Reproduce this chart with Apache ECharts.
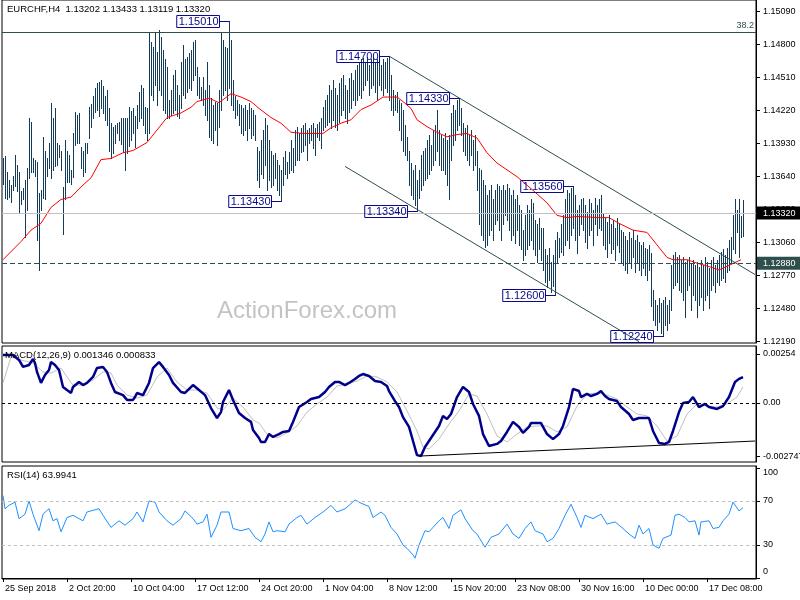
<!DOCTYPE html>
<html><head><meta charset="utf-8">
<script src="https://cdn.jsdelivr.net/npm/echarts/dist/echarts.min.js"></script>
<style>html,body{margin:0;padding:0;background:#fff}#c{width:800px;height:600px}</style>
</head><body><div id="c"></div>
<script>
// ---------- DATA ----------
const titleText = 'EURCHF,H4  1.13202 1.13433 1.13119 1.13320';
const timeLabels = ['25 Sep 2018','2 Oct 20:00','10 Oct 04:00','17 Oct 12:00','24 Oct 20:00','1 Nov 04:00','8 Nov 12:00','15 Nov 20:00','23 Nov 08:00','30 Nov 16:00','10 Dec 00:00','17 Dec 08:00'];
const barsPerLabel = 32;
const totalSlots = 377;

const highs = [
1.1380,1.1382,1.1368,1.1361,1.1357,1.1365,1.1383,1.1374,1.1368,1.1351,
1.1354,1.1361,1.1372,1.1416,1.1412,1.1380,1.1379,1.1377,1.1350,1.1352,
1.1399,1.1387,1.1380,1.1394,1.1429,1.1416,1.1424,1.1394,1.1392,1.1387,
1.1355,1.1396,1.1387,1.1383,1.1370,1.1402,1.1421,1.1418,1.1420,1.1390,
1.1387,1.1394,1.1394,1.1425,1.1428,1.1435,1.1442,1.1446,1.1447,1.1449,
1.1444,1.1435,1.1440,1.1424,1.1411,1.1408,1.1409,1.1411,1.1412,1.1416,
1.1416,1.1416,1.1416,1.1425,1.1422,1.1424,1.1417,1.1427,1.1438,1.1445,
1.1442,1.1425,1.1424,1.1490,1.1482,1.1478,1.1490,1.1474,1.1493,1.1487,
1.1475,1.1467,1.1460,1.1431,1.1440,1.1453,1.1458,1.1445,1.1436,1.1465,
1.1480,1.1467,1.1469,1.1473,1.1475,1.1482,1.1484,1.1460,1.1452,1.1443,
1.1452,1.1440,1.1465,1.1445,1.1433,1.1427,1.1430,1.1429,1.1440,1.1491,
1.1484,1.1478,1.1477,1.1501,1.1484,1.1449,1.1435,1.1431,1.1428,1.1427,
1.1424,1.1427,1.1423,1.1429,1.1424,1.1423,1.1418,1.1390,1.1387,1.1396,
1.1405,1.1416,1.1409,1.1396,1.1387,1.1383,1.1385,1.1379,1.1374,1.1370,
1.1381,1.1387,1.1377,1.1386,1.1396,1.1389,1.1405,1.1408,1.1402,1.1407,
1.1409,1.1411,1.1405,1.1407,1.1409,1.1411,1.1407,1.1410,1.1412,1.1416,
1.1425,1.1431,1.1436,1.1445,1.1440,1.1449,1.1442,1.1436,1.1446,1.1451,
1.1453,1.1445,1.1440,1.1451,1.1455,1.1449,1.1458,1.1462,1.1465,1.1467,
1.1468,1.1465,1.1469,1.1462,1.1467,1.1469,1.1464,1.1467,1.1468,1.1462,
1.1467,1.1465,1.1468,1.1470,1.1453,1.1440,1.1436,1.1438,1.1431,1.1429,
1.1423,1.1409,1.1399,1.1387,1.1376,1.1370,1.1374,1.1361,1.1370,1.1383,
1.1387,1.1389,1.1396,1.1401,1.1392,1.1405,1.1409,1.1423,1.1405,1.1401,
1.1398,1.1402,1.1396,1.1401,1.1420,1.1427,1.1423,1.1431,1.1433,1.1424,
1.1411,1.1407,1.1409,1.1401,1.1405,1.1396,1.1401,1.1387,1.1372,1.1370,
1.1361,1.1357,1.1348,1.1352,1.1357,1.1344,1.1352,1.1358,1.1356,1.1352,
1.1357,1.1352,1.1358,1.1354,1.1348,1.1352,1.1344,1.1348,1.1339,1.1335,
1.1317,1.1330,1.1339,1.1335,1.1344,1.1341,1.1326,1.1322,1.1328,1.1319,
1.1319,1.1300,1.1295,1.1301,1.1289,1.1295,1.1308,1.1315,1.1310,1.1322,
1.1330,1.1344,1.1352,1.1350,1.1354,1.1356,1.1348,1.1335,1.1339,1.1344,
1.1345,1.1339,1.1333,1.1344,1.1341,1.1335,1.1345,1.1339,1.1344,1.1348,
1.1332,1.1328,1.1324,1.1330,1.1322,1.1326,1.1319,1.1328,1.1322,1.1317,
1.1315,1.1312,1.1308,1.1315,1.1310,1.1317,1.1308,1.1313,1.1307,1.1304,
1.1307,1.1301,1.1300,1.1304,1.1297,1.1264,1.1256,1.1251,1.1257,1.1253,
1.1256,1.1258,1.1251,1.1256,1.1286,1.1295,1.1298,1.1293,1.1295,1.1291,
1.1293,1.1289,1.1291,1.1293,1.1288,1.1291,1.1286,1.1289,1.1285,1.1291,
1.1286,1.1293,1.1289,1.1284,1.1291,1.1293,1.1286,1.1291,1.1295,1.1298,
1.1300,1.1295,1.1301,1.1308,1.1311,1.1330,1.1344,1.1335,1.1344,1.1329,1.13433];

const lows = [
1.1358,1.1345,1.1344,1.1346,1.1342,1.1352,1.1356,1.1351,1.1332,1.1340,
1.1344,1.1311,1.1335,1.1363,1.1368,1.1368,1.1365,1.1308,1.1282,1.1335,
1.1345,1.1344,1.1365,1.1372,1.1363,1.1370,1.1373,1.1374,1.1381,1.1370,
1.1314,1.1344,1.1359,1.1359,1.1358,1.1364,1.1392,1.1394,1.1394,1.1372,
1.1365,1.1368,1.1385,1.1398,1.1408,1.1416,1.1421,1.1423,1.1417,1.1424,
1.1420,1.1414,1.1409,1.1387,1.1380,1.1385,1.1394,1.1402,1.1396,1.1393,
1.1386,1.1370,1.1385,1.1391,1.1396,1.1402,1.1390,1.1407,1.1413,1.1416,
1.1409,1.1402,1.1396,1.1402,1.1436,1.1431,1.1445,1.1427,1.1440,1.1436,
1.1423,1.1420,1.1416,1.1416,1.1418,1.1420,1.1423,1.1417,1.1416,1.1424,
1.1436,1.1433,1.1438,1.1442,1.1440,1.1449,1.1453,1.1436,1.1433,1.1431,
1.1427,1.1418,1.1414,1.1399,1.1396,1.1394,1.1405,1.1392,1.1408,1.1423,
1.1436,1.1440,1.1431,1.1442,1.1427,1.1423,1.1416,1.1418,1.1409,1.1402,
1.1401,1.1405,1.1396,1.1407,1.1398,1.1401,1.1396,1.1361,1.1355,1.1366,
1.1363,1.1374,1.1352,1.1361,1.1355,1.1357,1.1363,1.1352,1.1348,1.1343,
1.1357,1.1366,1.1363,1.1367,1.1370,1.1368,1.1374,1.1379,1.1379,1.1386,
1.1387,1.1392,1.1379,1.1394,1.1396,1.1389,1.1383,1.1399,1.1396,1.1389,
1.1405,1.1408,1.1409,1.1412,1.1407,1.1414,1.1408,1.1405,1.1412,1.1418,
1.1423,1.1416,1.1411,1.1421,1.1424,1.1431,1.1427,1.1431,1.1436,1.1433,
1.1440,1.1445,1.1449,1.1436,1.1442,1.1445,1.1438,1.1431,1.1445,1.1440,
1.1436,1.1442,1.1438,1.1431,1.1423,1.1418,1.1423,1.1421,1.1405,1.1396,
1.1387,1.1383,1.1379,1.1357,1.1348,1.1344,1.1339,1.1334,1.1345,1.1352,
1.1357,1.1361,1.1363,1.1366,1.1370,1.1374,1.1379,1.1387,1.1374,1.1370,
1.1370,1.1366,1.1357,1.1344,1.1379,1.1392,1.1396,1.1405,1.1409,1.1401,
1.1387,1.1383,1.1379,1.1374,1.1383,1.1370,1.1374,1.1352,1.1322,1.1313,
1.1308,1.1302,1.1304,1.1313,1.1317,1.1308,1.1322,1.1326,1.1317,1.1308,
1.1322,1.1330,1.1326,1.1317,1.1308,1.1313,1.1306,1.1317,1.1304,1.1300,
1.1291,1.1295,1.1300,1.1304,1.1308,1.1300,1.1295,1.1289,1.1300,1.1291,
1.1282,1.1271,1.1267,1.1273,1.1263,1.1268,1.1260,1.1289,1.1293,1.1298,
1.1295,1.1304,1.1308,1.1301,1.1313,1.1319,1.1308,1.1297,1.1313,1.1322,
1.1317,1.1307,1.1301,1.1313,1.1317,1.1304,1.1322,1.1313,1.1319,1.1317,
1.1304,1.1300,1.1293,1.1306,1.1297,1.1300,1.1291,1.1304,1.1298,1.1289,
1.1286,1.1282,1.1279,1.1289,1.1284,1.1293,1.1280,1.1289,1.1282,1.1278,
1.1284,1.1278,1.1273,1.1282,1.1250,1.1238,1.1234,1.1229,1.1236,1.1227,
1.1224,1.1234,1.1229,1.1235,1.1247,1.1266,1.1269,1.1271,1.1264,1.1263,
1.1256,1.1241,1.1264,1.1269,1.1247,1.1260,1.1256,1.1241,1.1251,1.1258,
1.1247,1.1256,1.1260,1.1249,1.1264,1.1269,1.1263,1.1271,1.1269,1.1273,
1.1275,1.1271,1.1280,1.1282,1.1289,1.1300,1.1297,1.1315,1.1293,1.1311,1.13119];

const maBars = [0,9,14,19,24,29,34,39,44,49,54,60,65,72,77,82,89,94,97,103,108,114,119,124,128,134,139,144,150,160,164,169,174,179,184,190,197,200,204,207,212,217,222,227,232,237,242,247,252,257,259,265,272,277,282,287,298,303,308,315,322,327,332,335,342,347,353,358,363,369];
const maVals = [1.1291,1.1307,1.1317,1.1323,1.1337,1.1344,1.1346,1.1355,1.1363,1.1379,1.1380,1.1385,1.1387,1.1394,1.1405,1.1416,1.1420,1.1425,1.1430,1.1433,1.1429,1.1437,1.1434,1.1430,1.1424,1.1416,1.1411,1.1403,1.1402,1.1402,1.1407,1.1411,1.1414,1.1423,1.1427,1.1434,1.1434,1.1430,1.1424,1.1414,1.1408,1.1403,1.1399,1.1401,1.1402,1.1398,1.1385,1.1376,1.1370,1.1364,1.1361,1.1352,1.1341,1.1330,1.1328,1.1329,1.1328,1.1328,1.1323,1.1317,1.1315,1.1304,1.1293,1.1291,1.1291,1.1288,1.1285,1.1282,1.1286,1.1291];

const macdBars = [0,5,8,10,13,15,16,17,19,21,23,24,26,28,30,32,34,35,38,40,42,45,47,50,52,54,56,60,62,65,66,67,70,71,73,75,78,80,83,85,89,91,95,98,101,104,107,109,110,113,115,118,121,124,125,128,129,131,133,135,138,140,143,145,148,152,154,158,161,163,166,168,171,173,176,178,180,183,186,189,192,193,196,198,200,203,205,207,209,211,213,216,218,220,222,224,227,230,233,235,238,240,243,244,247,249,252,255,258,260,263,264,269,272,275,278,280,283,285,288,289,292,294,297,299,301,303,307,309,313,315,318,323,325,328,331,333,335,338,340,343,345,348,351,353,357,360,363,366,368,370];
const macdVals = [0.00249,0.00249,0.00223,0.00187,0.00197,0.00228,0.00207,0.00161,0.00104,0.00145,0.00171,0.00212,0.00197,0.00171,0.00083,0.00067,0.00052,0.00083,0.00109,0.00093,0.00104,0.00135,0.00181,0.00187,0.00161,0.00104,0.00057,0.00041,0.00016,0.00016,0.00031,0.00052,0.00041,0.00041,0.00104,0.00181,0.00212,0.00187,0.00145,0.00104,0.00057,0.00052,0.00093,0.00067,0.00041,-0.00026,-0.00078,-0.00047,0.00005,0.00067,0.00016,-0.00052,-0.00078,-0.00098,-0.00140,-0.00181,-0.00202,-0.00202,-0.00161,-0.00176,-0.00161,-0.00150,-0.00145,-0.00098,-0.00021,0.00005,0.00021,0.00031,0.00057,0.00083,0.00109,0.00109,0.00093,0.00104,0.00124,0.00140,0.00150,0.00140,0.00114,0.00109,0.00088,0.00062,0.00010,-0.00021,-0.00073,-0.00124,-0.00197,-0.00270,-0.002747,-0.00228,-0.00197,-0.00150,-0.00119,-0.00067,-0.00083,-0.00057,0.00031,0.00083,0.00057,-0.00005,-0.00067,-0.00161,-0.00223,-0.00233,-0.00212,-0.00197,-0.00150,-0.00098,-0.00124,-0.00155,-0.00124,-0.00104,-0.00104,-0.00161,-0.00187,-0.00161,-0.00119,-0.00021,0.00073,0.00062,0.00031,0.00047,0.00036,0.00047,0.00062,0.00036,0.00021,0.00010,-0.00021,-0.00057,-0.00088,-0.00078,-0.00078,-0.00145,-0.00207,-0.00212,-0.00202,-0.00145,-0.00047,0.00000,0.00005,0.00031,-0.00021,-0.00005,-0.00021,-0.00031,-0.00016,0.00031,0.00109,0.00125,0.001346];

const sigBars = [0,4,9,15,20,24,29,32,35,40,45,50,54,57,62,67,72,77,82,87,92,97,102,107,110,115,120,125,128,132,137,142,147,152,157,162,167,172,177,182,187,192,197,202,207,210,213,218,223,228,233,237,242,247,252,257,262,267,272,277,282,287,292,297,302,307,312,317,322,327,332,337,342,347,352,357,362,367,370];
const sigVals = [0.00104,0.00238,0.00223,0.00207,0.00161,0.00155,0.00181,0.00135,0.00093,0.00093,0.00119,0.00161,0.00155,0.00093,0.00041,0.00026,0.00041,0.00135,0.00181,0.00109,0.00067,0.00067,0.00052,-0.00026,-0.00036,0.00026,-0.00021,-0.00088,-0.00104,-0.00161,-0.00181,-0.00155,-0.00119,-0.00047,-0.00005,0.00031,0.00088,0.00098,0.00114,0.00140,0.00135,0.00109,0.00057,-0.00041,-0.00145,-0.00228,-0.00238,-0.00187,-0.00109,-0.00041,0.00047,0.00036,-0.00057,-0.00171,-0.00202,-0.00161,-0.00124,-0.00119,-0.00119,-0.00150,-0.00124,-0.00016,0.00047,0.00052,0.00041,0.00021,-0.00021,-0.00057,-0.00067,-0.00119,-0.00197,-0.00171,-0.00057,-0.00005,-0.00016,-0.00021,-0.00005,0.00031,0.000833];

const rsiBars = [0,1,3,6,8,11,13,15,18,20,23,25,27,29,32,35,37,40,42,46,48,50,54,58,61,65,67,70,73,76,78,82,85,89,91,95,97,100,102,104,107,109,113,115,119,123,126,129,131,133,135,137,141,143,147,149,152,154,156,160,164,167,171,173,176,179,183,185,189,191,194,197,200,202,205,206,208,211,213,215,218,220,223,225,229,231,235,237,241,244,248,252,255,258,261,264,266,270,272,275,278,281,284,287,289,291,295,299,302,306,310,313,316,318,320,323,325,328,330,334,336,338,341,343,346,348,349,353,355,358,360,363,365,368,370];
const rsiVals = [75,63,66,69,54,58,70,58,43,58,63,52,54,42,55,57,55,52,60,62,63,57,46,52,48,54,60,51,70,69,60,52,48,54,61,54,49,51,58,37,48,60,60,45,43,45,37,33,40,51,42,43,42,49,55,57,49,52,55,60,66,60,63,66,71,68,65,55,60,57,46,40,30,27,21,18,30,43,42,46,52,55,45,57,62,54,43,40,28,37,40,49,40,36,45,51,43,40,33,36,45,57,67,55,46,57,54,58,49,51,45,40,36,48,40,45,30,27,36,39,57,58,55,51,52,39,51,52,45,46,52,58,69,61,63.9941];

const priceTicks = [1.1219,1.1248,1.1277,1.1306,1.1335,1.1364,1.1393,1.1422,1.1451,1.1480,1.1509];
const macdTicks = [-0.002747,0,0.00254];
const rsiTicks = [0,30,70,100];
const rsiLevels = [70,30];

const fibLevel = 1.14911, fibName = '38.2';
const lastPrice = 1.1332;
const supportLevel = 1.1288;

const noteBars = [113,139,193,207,228,276,285,330];
const notePrices = [1.1501,1.1343,1.1470,1.1334,1.1433,1.1260,1.1356,1.1224];

const upperChannel = [[193,1.1470],[376,1.1278]];
const lowerChannel = [[171,1.1373],[318,1.1219]];
const macdTrend = [[208,-0.00275],[376,-0.00197]];

// ---------- CHART ----------
const FONT = '"Liberation Sans", Arial, sans-serif';
const BAR_COLOR = '#133c5a';
const NOTE_COLOR = '#0a0a8a';
const DARK = '#2f4f4f';
const cats = Array.from({length: totalSlots}, (_, i) => String(i));
const showLabel = (i) => i % barsPerLabel === 0 && (i / barsPerLabel) < timeLabels.length;
const pairs = (b, v) => b.map((x, k) => [x, v[k]]);

function renderBar(params, api) {
  const top = api.coord([api.value(0), api.value(1)]);
  const bot = api.coord([api.value(0), api.value(2)]);
  const x = Math.floor(top[0] + 0.01) + 0.5;
  return { type: 'line', silent: true,
    shape: { x1: x, y1: Math.round(top[1]), x2: x, y2: Math.round(bot[1]) + 1 },
    style: { stroke: BAR_COLOR, lineWidth: 1 } };
}
function renderNote(params, api) {
  const p = api.coord([api.value(0), api.value(1)]);
  const x = Math.floor(p[0] + 0.01) + 0.5;
  const y = Math.round(p[1]) + 0.5;
  const txt = notePrices[params.dataIndex].toFixed(5);
  return { type: 'group', silent: true, children: [
    { type: 'line', shape: { x1: x - 10, y1: y, x2: x, y2: y }, style: { stroke: NOTE_COLOR, lineWidth: 1 } },
    { type: 'text', x: x - 10, y: y, style: { text: txt, font: '11px ' + FONT, fill: NOTE_COLOR,
      align: 'right', verticalAlign: 'middle', lineHeight: 11,
      borderColor: NOTE_COLOR, borderWidth: 1, padding: [1, 1, 0, 2] } }
  ]};
}

const gridBase = { left: 2, width: 754, show: true, borderColor: '#000', borderWidth: 1, containLabel: false, outerBoundsMode: 'none' };
const hiddenX = (g) => ({ type: 'category', gridIndex: g, data: cats, show: false, boundaryGap: true });
const yBase = (g, min, max, ticks, fmt) => ({
  type: 'value', gridIndex: g, position: 'right', min: min, max: max,
  splitLine: { show: false },
  axisLine: { show: true, lineStyle: { color: '#000' } },
  axisTick: { show: true, length: 4, customValues: ticks, lineStyle: { color: '#000' } },
  axisLabel: { show: true, customValues: ticks, formatter: fmt, margin: 7, fontSize: 9, color: '#000', fontFamily: FONT }
});

const option = {
  animation: false,
  backgroundColor: '#fff',
  textStyle: { fontFamily: FONT },
  title: [
    { text: titleText, left: 7, top: 4, padding: 0, textStyle: { fontSize: 9.5, fontWeight: 'normal', color: '#000', fontFamily: FONT } },
    { text: 'MACD(12,26,9) ' + macdVals[macdVals.length-1].toFixed(6) + ' ' + sigVals[sigVals.length-1].toFixed(6), left: 5, top: 350, padding: 0, textStyle: { fontSize: 9.5, fontWeight: 'normal', color: '#000', fontFamily: FONT } },
    { text: 'RSI(14) ' + rsiVals[rsiVals.length-1].toFixed(4), left: 7, top: 470, padding: 0, textStyle: { fontSize: 9.5, fontWeight: 'normal', color: '#000', fontFamily: FONT } }
  ],
  graphic: [
    { type: 'text', left: 217, top: 299, z: 0, silent: true, style: { text: 'ActionForex.com', fill: '#c4c4c4', font: '24px ' + FONT } }
  ],
  grid: [
    Object.assign({ top: 0, height: 343 }, gridBase),
    Object.assign({ top: 346, height: 116 }, gridBase),
    Object.assign({ top: 466, height: 113 }, gridBase)
  ],
  xAxis: [
    hiddenX(0), hiddenX(1),
    { type: 'category', gridIndex: 2, data: cats, boundaryGap: true,
      axisLine: { show: true, lineStyle: { color: '#000' } },
      axisTick: { show: true, alignWithLabel: true, interval: (i) => showLabel(i), length: 4, lineStyle: { color: '#000' } },
      axisLabel: { show: true, interval: (i) => showLabel(i), formatter: (v, i) => timeLabels[Math.round(Number(v) / barsPerLabel)] || '',
        align: 'left', margin: 5, fontSize: 9, color: '#000', fontFamily: FONT, padding: [0, 0, 0, 2] },
      splitLine: { show: false } }
  ],
  yAxis: [
    yBase(0, 1.12178, 1.15193, priceTicks, (v) => v.toFixed(5)),
    yBase(1, -0.003057, 0.0029534, macdTicks, (v) => v === 0 ? '0.00' : String(v)),
    yBase(2, -0.909, 101.82, rsiTicks, (v) => v === 100 ? '{t|100}' : (v === 0 ? '{b|0}' : String(v)))
  ],
  series: [
    { type: 'line', xAxisIndex: 0, yAxisIndex: 0, data: [], z: 1, silent: true,
      markLine: { silent: true, precision: 6, symbol: ['none', 'none'], animation: false, data: [
        { yAxis: fibLevel, lineStyle: { color: DARK, type: 'solid', width: 1 },
          label: { show: true, position: 'insideEndTop', formatter: fibName, color: DARK, fontSize: 9, distance: 2, fontFamily: FONT } },
        { yAxis: lastPrice, lineStyle: { color: '#c0c0c0', type: 'solid', width: 1 },
          label: { show: true, position: 'end', formatter: lastPrice.toFixed(5), color: '#fff', backgroundColor: '#000', padding: [2, 12, 1, 6], lineHeight: 10, fontSize: 9, distance: 1, fontFamily: FONT } },
        { yAxis: supportLevel, lineStyle: { color: DARK, type: [5, 3], width: 1 },
          label: { show: true, position: 'end', formatter: supportLevel.toFixed(5), color: '#fff', backgroundColor: DARK, padding: [2, 12, 1, 6], lineHeight: 10, fontSize: 9, distance: 1, fontFamily: FONT } }
      ] } },
    { type: 'custom', xAxisIndex: 0, yAxisIndex: 0, z: 3, renderItem: renderBar,
      encode: { x: 0, y: [1, 2] }, data: highs.map((h, i) => [i, h, lows[i]]) },
    { type: 'line', xAxisIndex: 0, yAxisIndex: 0, z: 4, data: pairs(maBars, maVals), symbol: 'none', silent: true,
      lineStyle: { color: '#ff0000', width: 1 } },
    { type: 'line', xAxisIndex: 0, yAxisIndex: 0, z: 4, data: upperChannel, symbol: 'none', silent: true,
      lineStyle: { color: DARK, width: 1 } },
    { type: 'line', xAxisIndex: 0, yAxisIndex: 0, z: 4, data: lowerChannel, symbol: 'none', silent: true,
      lineStyle: { color: DARK, width: 1 } },
    { type: 'custom', xAxisIndex: 0, yAxisIndex: 0, z: 5, renderItem: renderNote,
      encode: { x: 0, y: 1 }, data: noteBars.map((b, k) => [b, notePrices[k]]) },
    // MACD pane
    { type: 'line', xAxisIndex: 1, yAxisIndex: 1, z: 3, data: pairs(sigBars, sigVals), symbol: 'none', silent: true,
      lineStyle: { color: '#c0c0c0', width: 1 },
      markLine: { silent: true, precision: 6, symbol: ['none', 'none'], label: { show: false },
        data: [ { yAxis: 0, lineStyle: { color: '#000', type: [3, 3], width: 1 } } ] } },
    { type: 'line', xAxisIndex: 1, yAxisIndex: 1, z: 4, data: pairs(macdBars, macdVals), symbol: 'none', silent: true,
      lineStyle: { color: '#00008b', width: 2.5 } },
    { type: 'line', xAxisIndex: 1, yAxisIndex: 1, z: 4, data: macdTrend, symbol: 'none', silent: true,
      lineStyle: { color: '#000', width: 1 } },
    // RSI pane
    { type: 'line', xAxisIndex: 2, yAxisIndex: 2, z: 4, data: pairs(rsiBars, rsiVals), symbol: 'none', silent: true,
      lineStyle: { color: '#1e90ff', width: 1 },
      markLine: { silent: true, precision: 6, symbol: ['none', 'none'], label: { show: false },
        data: rsiLevels.map((v) => ({ yAxis: v, lineStyle: { color: '#c0c0c0', type: [3, 3], width: 1 } })) } }
  ]
};
option.yAxis[2].axisLabel.rich = { t: { padding: [10, 0, 0, 0], fontSize: 9, fontFamily: FONT }, b: { padding: [0, 0, 12, 0], fontSize: 9, fontFamily: FONT } };

const chart = echarts.init(document.getElementById('c'), null, { renderer: 'canvas' });
chart.setOption(option);
</script></body></html>
